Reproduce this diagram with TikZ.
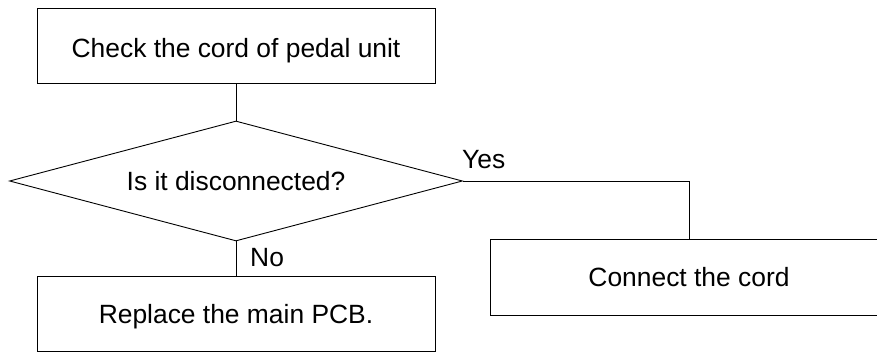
\documentclass[tikz,border=0pt]{standalone}
\usepackage{fontspec}
\setmainfont{Liberation Sans}
\usetikzlibrary{shapes.geometric}
\tikzset{
  box/.style={draw, line width=0.9pt, minimum width=398pt, minimum height=75pt, inner sep=0pt, text height=20pt, text depth=0pt},
  decision/.style={draw, diamond, line width=0.9pt, minimum width=453pt, minimum height=120pt, aspect=3.775, inner sep=0pt, text height=20pt, text depth=0pt},
  lbl/.style={anchor=base west, inner sep=0pt},
  conn/.style={line width=0.9pt}
}
\begin{document}
\begin{tikzpicture}[x=1pt, y=-1pt, font=\fontsize{26.4}{30}\selectfont]
\useasboundingbox (0,0) rectangle (877,352);
\clip (0,0) rectangle (877,352);
\node[box, text height=25pt] (check) at (236,45.5) {Check the cord of pedal unit};
\node[decision] (dec) at (236,181) {Is it disconnected?};
\node[box] (repl) at (236,313.5) {Replace the main PCB.};
\node[box, minimum height=76pt] (conn) at (689,277) {Connect the cord};
\node[lbl] (yes) at (462,169) {Yes};
\node[lbl] (no) at (250,267) {No};
\draw[conn] (check.south) -- (dec.north);
\draw[conn] (dec.south) -- (repl.north);
\draw[conn] (dec.east) -| (conn.north);
\end{tikzpicture}
\end{document}
